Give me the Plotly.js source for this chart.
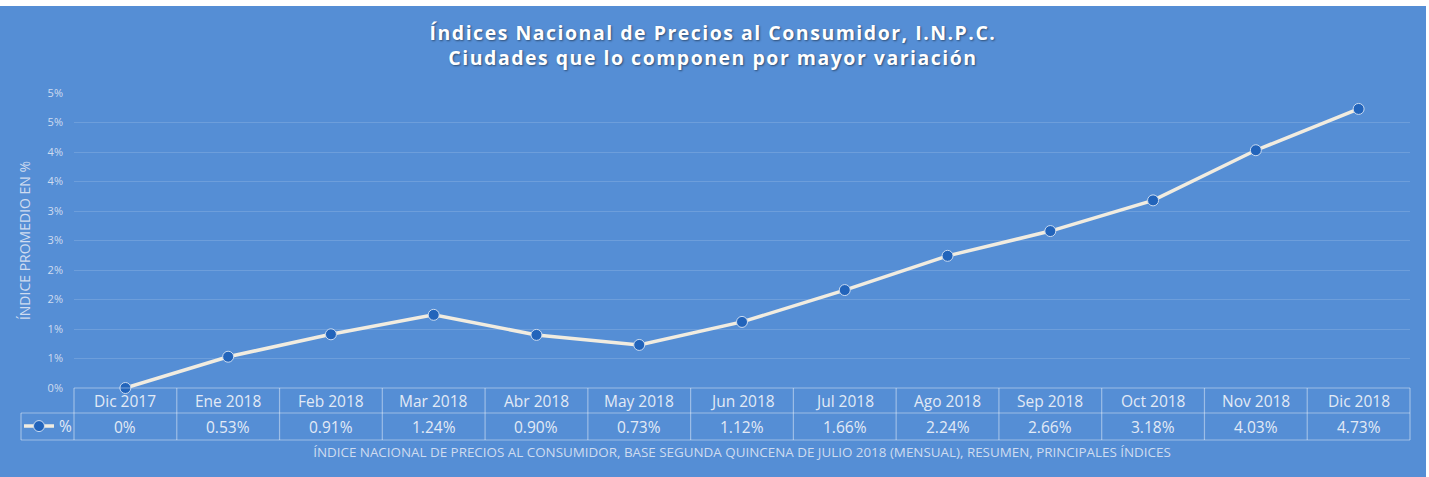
<!DOCTYPE html>
<html><head><meta charset="utf-8">
<script src="https://cdn.plot.ly/plotly-3.0.1.min.js"></script>
<style>
html,body{margin:0;padding:0;background:#fff;width:1429px;height:477px;overflow:hidden;}
#chart{position:absolute;left:0;top:6px;width:1426px;height:471px;}
.gtitle{letter-spacing:1.5px;}
</style></head><body><div id="chart"></div>
<script>
const categories = ['Dic 2017','Ene 2018','Feb 2018','Mar 2018','Abr 2018','May 2018','Jun 2018','Jul 2018','Ago 2018','Sep 2018','Oct 2018','Nov 2018','Dic 2018'];
const values = [0, 0.53, 0.91, 1.24, 0.90, 0.73, 1.12, 1.66, 2.24, 2.66, 3.18, 4.03, 4.73];
const valueLabels = ['0%','0.53%','0.91%','1.24%','0.90%','0.73%','1.12%','1.66%','2.24%','2.66%','3.18%','4.03%','4.73%'];
const yTickVals = [0, 0.5, 1, 1.5, 2, 2.5, 3, 3.5, 4, 4.5, 5];
const yTickText = ['0%','1%','1%','2%','2%','3%','3%','4%','4%','5%','5%'];
const seriesName = '%';

const W = 1426, H = 471;
const margin = {l: 74, r: 16, t: 87, b: 89};
const plotW = W - margin.l - margin.r;
const plotH = H - margin.t - margin.b;
const n = categories.length;
const legendCellPx = 53;
const leftPaper = -legendCellPx / plotW;
const row1 = 25, row2 = 52;
const tableLine = {color: 'rgba(255,255,255,0.42)', width: 1.2};
const textColor = '#e2eaf6';

const shapes = [];
function hline(x0, x1, py) {
  shapes.push({type: 'line', xref: 'paper', yref: 'paper', ysizemode: 'pixel', yanchor: 0,
    x0: x0, x1: x1, y0: py, y1: py, line: tableLine, layer: 'above'});
}
function vline(x, py0, py1) {
  shapes.push({type: 'line', xref: 'paper', yref: 'paper', ysizemode: 'pixel', yanchor: 0,
    x0: x, x1: x, y0: py0, y1: py1, line: tableLine, layer: 'above'});
}
hline(0, 1, 0);
hline(leftPaper, 1, -row1);
hline(leftPaper, 1, -row2);
for (let k = 0; k <= n; k++) vline(k / n, 0, -row2);
vline(leftPaper, -row1, -row2);

const annotations = [];
categories.forEach((c, i) => {
  annotations.push({x: i, xref: 'x', y: 0, yref: 'paper', yshift: -row1 / 2 - 0.5,
    text: c, showarrow: false, yanchor: 'middle', xanchor: 'center',
    font: {family: 'Open Sans', size: 15.5, color: textColor}});
  annotations.push({x: i, xref: 'x', y: 0, yref: 'paper', yshift: -(row1 + row2) / 2,
    text: valueLabels[i], showarrow: false, yanchor: 'middle', xanchor: 'center',
    font: {family: 'Open Sans', size: 15.5, color: textColor}});
});

const trace = {
  type: 'scatter', mode: 'lines+markers', name: seriesName,
  x: categories, y: values,
  line: {color: '#f1ece0', width: 3.5},
  marker: {size: 11, color: '#2264bb', line: {color: '#c9daf0', width: 1}},
  cliponaxis: false
};

const layout = {
  width: W, height: H, margin: margin,
  paper_bgcolor: '#558ED5', plot_bgcolor: '#558ED5',
  title: {
    text: 'Índices Nacional de Precios al Consumidor, I.N.P.C.<br>Ciudades que lo componen por mayor variación',
    font: {family: 'Open Sans', size: 19.5, weight: 'bold', color: '#ffffff', shadow: '1px 1px 2px rgba(0,0,0,0.45)'},
    x: 0.5, xref: 'container', xanchor: 'center',
    y: 1 - 34 / H, yref: 'container', yanchor: 'middle'
  },
  xaxis: {
    type: 'category', range: [-0.5, n - 0.5],
    showticklabels: false, showgrid: false, zeroline: false, showline: false, ticks: '',
    automargin: false,
    title: {text: 'ÍNDICE NACIONAL DE PRECIOS AL CONSUMIDOR, BASE SEGUNDA QUINCENA DE JULIO 2018 (MENSUAL), RESUMEN, PRINCIPALES ÍNDICES',
      font: {family: 'Open Sans', size: 13.4, color: '#cfdcf0'}, standoff: 59}
  },
  yaxis: {
    range: [0, 5], tickvals: yTickVals, ticktext: yTickText,
    showgrid: true, gridcolor: 'rgba(255,255,255,0.14)', gridwidth: 1,
    zeroline: false, showline: false, ticks: '', ticklabelstandoff: 10,
    tickfont: {family: 'Open Sans', size: 11, color: '#cfdcf0'},
    automargin: false,
    title: {text: 'ÍNDICE PROMEDIO EN %', font: {family: 'Open Sans', size: 14, color: '#cfdcf0'}, standoff: 13}
  },
  showlegend: true,
  legend: {x: leftPaper - 2 / plotW, xanchor: 'left', xref: 'paper',
    y: -(row1 + row2) / 2 / plotH, yanchor: 'middle',
    bgcolor: 'rgba(0,0,0,0)', borderwidth: 0,
    font: {family: 'Open Sans', size: 15.5, color: textColor}},
  shapes: shapes, annotations: annotations
};

Plotly.newPlot('chart', [trace], layout, {displayModeBar: false, staticPlot: true});
</script></body></html>
